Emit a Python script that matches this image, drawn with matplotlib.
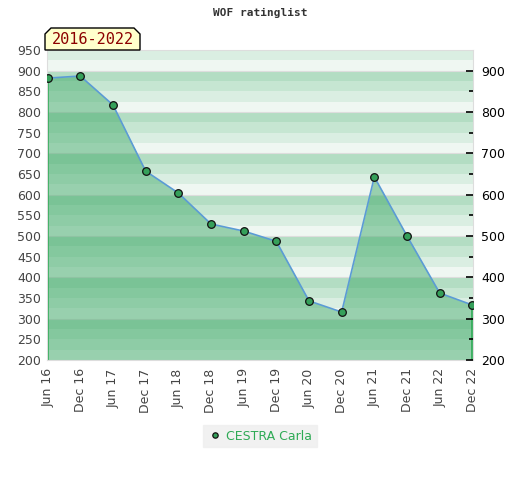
import numpy as np
import matplotlib
matplotlib.use("Agg")
import matplotlib.pyplot as plt
from matplotlib.patches import Polygon

# data
periods = ["Jun 16", "Dec 16", "Jun 17", "Dec 17", "Jun 18", "Dec 18", "Jun 19",
           "Dec 19", "Jun 20", "Dec 20", "Jun 21", "Dec 21", "Jun 22", "Dec 22"]
rating = [882, 887, 817, 657, 604, 529, 512, 487, 343, 316, 643, 500, 362, 333]
player = "CESTRA Carla"
span_label = "2016-2022"

fig = plt.figure(figsize=(5.2, 4.8), dpi=100)
ax = fig.add_axes([47/520, 1-360/480, 426/520, 310/480])

x = np.arange(len(periods))
ymin, ymax = 200, 950

# striped background, 4 shades per 100 points
shades = ["#b3ddc3", "#c6e6d2", "#daeee2", "#eff7f2"]
for lo in range(ymin, ymax, 25):
    k = 3 - (lo % 100) // 25
    ax.axhspan(lo, lo + 25, color=shades[k], lw=0, zorder=0)
for v in range(300, ymax, 100):
    ax.axhline(v, color="#dddddd", lw=0.8, zorder=0.5)

ax.fill_between(x, rating, ymin, color="#43ab6b", alpha=0.5, lw=0, zorder=1)
ax.vlines([x[0], x[-1]], ymin, [rating[0], rating[-1]], color="#2eaa55", lw=1.2, zorder=2)
ax.plot(x, rating, color="#5b9bd5", lw=1.2, zorder=3)
ax.plot(x, rating, "o", ms=5.5, mfc="#35a05a", mec="#111111", mew=0.9, zorder=4,
        label=player)

ax.set_xlim(x[0] - 0.02, x[-1] + 0.02)
ax.set_ylim(ymin, ymax)
ax.set_yticks(range(ymin, ymax + 1, 50))
ax.tick_params(axis="y", labelsize=9, labelcolor="#444444", length=0, pad=4)
ax.set_xticks(x)
ax.set_xticklabels(periods, rotation=90, fontsize=9, color="#444444")
ax.tick_params(axis="x", length=0, pad=6)
for s in ax.spines.values():
    s.set_color("#dddddd")

ax2 = ax.twinx()
ax2.set_ylim(ymin, ymax)
ax2.set_yticks(range(ymin, 901, 100))
ax2.set_yticks(range(250, 901, 100), minor=True)
ax2.tick_params(axis="y", which="major", labelsize=9, length=5, width=1.2, direction="in", pad=6)
ax2.tick_params(axis="y", which="minor", length=3, width=1.2, direction="in")
for s in ax2.spines.values():
    s.set_visible(False)

fig.text(0.5, 1-13/480, "WOF ratinglist", ha="center", va="center",
         fontsize=8, family="DejaVu Sans Mono", weight="bold", color="#333333")

# yellow label with cut corners
x0, x1, y0, y1, c = 45, 140, 28, 50, 6
pts = [(x0, y1), (x0, y0 + c), (x0 + c, y0), (x1 - c, y0), (x1, y0 + c), (x1, y1)]
poly = Polygon([(px/520, 1-py/480) for px, py in pts], closed=True,
               transform=fig.transFigure, fc="#ffffcc", ec="#000000", lw=1)
fig.patches.append(poly)
fig.text((x0 + x1)/2/520, 1-40/480, span_label, ha="center", va="center",
         fontsize=11, family="DejaVu Sans Mono", color="#8b0000")

leg = fig.legend(loc="center", bbox_to_anchor=(260/520, 1-436/480), frameon=True,
                 fontsize=9, handletextpad=0.3, handlelength=1.2, borderpad=0.35,
                 markerscale=0.7, fancybox=False)
leg.get_frame().set_facecolor("#eeeeee")
leg.get_frame().set_edgecolor("#eeeeee")
for t in leg.get_texts():
    t.set_color("#2eaa55")

fig.savefig("out.png", dpi=100)
